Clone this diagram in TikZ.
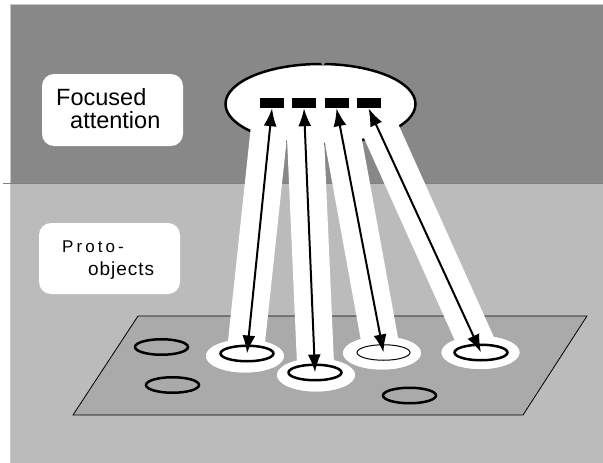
\documentclass[tikz,border=0pt]{standalone}
\usepackage{fontspec}
\setmainfont{Liberation Sans}
\usetikzlibrary{arrows.meta,shapes.geometric}

\definecolor{upgray}{HTML}{888888}
\definecolor{lowgray}{HTML}{BBBBBB}
\definecolor{planegray}{HTML}{AAAAAA}

\tikzset{
  labelbox/.style={fill=white,rounded corners=12pt,minimum width=141pt,minimum height=72pt,inner sep=0pt},
  boxtext/.style={anchor=base west,inner sep=0pt},
  blob/.style={ellipse,draw,line width=2.5pt,minimum width=53pt,minimum height=15.5pt,inner sep=0pt},
  halo/.style={ellipse,fill=white,minimum width=78pt,minimum height=33pt,inner sep=0pt},
  slot/.style={fill=black,minimum width=24pt,minimum height=10pt,inner sep=0pt},
  beam/.style={white,line width=37pt},
  link/.style={{Latex[length=18pt,width=13pt]}-{Latex[length=18pt,width=13pt]},line width=2pt},
}

\begin{document}
\begin{tikzpicture}[x=1pt,y=-1pt]
   \useasboundingbox (0,0) rectangle (603,463);
   % the two layers
   \fill[upgray] (10.5,4.5) rectangle (603,183);
   \fill[lowgray] (10.5,183) rectangle (603,463);
   \draw[black!22,line width=1pt] (10.5,463) -- (10.5,4.5) -- (603,4.5);
   \draw[black!50,line width=1pt] (3,183) -- (603,183);

   \node[labelbox] (focusbox) at (112.5,110) {};
   \node[boxtext,font=\fontsize{23.5}{24}\selectfont] (focus1) at (56,105) {Focused};
   \node[boxtext,font=\fontsize{23.5}{24}\selectfont] (focus2) at (70,128) {attention};

   \node[labelbox,minimum height=71pt] (protobox) at (109.5,258.5) {};
   \node[boxtext,font=\fontsize{17}{18}\selectfont\addfontfeatures{LetterSpace=18}] (proto1) at (62,252) {Proto-};
   \node[boxtext,font=\fontsize{19}{20}\selectfont\addfontfeatures{LetterSpace=5}] (proto2) at (88,275) {objects};

   % plane with the proto-objects
   \draw[fill=planegray,line width=0.8pt] (138,316) -- (587,316) -- (523,415) -- (73,415) -- cycle;
   \node[blob] (p1) at (161.5,347) {};
   \node[blob] (p2) at (172.5,385) {};
   \node[blob] (p3) at (409.5,395.5) {};

   \node[ellipse,draw,fill=white,line width=2.5pt,minimum width=190pt,minimum height=80pt] (att) at (320.5,104) {};
   \fill[upgray] (320,61.5) -- (326,61.5) -- (323,66) -- cycle;

   \node[slot] (r1) at (272,103) {};
   \node[slot] (r2) at (304,103) {};
   \node[slot] (r3) at (336.5,103) {};
   \node[slot] (r4) at (368.5,103) {};

   \node[halo] (h1) at (245,356) {};
   \node[halo] (h2) at (316,375) {};
   \node[halo] (h3) at (382,353) {};
   \node[halo] (h4) at (480.5,352.5) {};

   \foreach \r/\h in {r1/h1,r2/h2,r3/h3,r4/h4}
      \draw[beam] (\r.center) -- (\h.center);
   \foreach \h in {h1,h2,h3,h4}
      \fill[white] (\h) ellipse [x radius=39pt,y radius=16.5pt];

   \node[blob] (t1) at (247,353.5) {};
   \node[blob] (t2) at (315,372.5) {};
   \node[blob,line width=1pt] (t3) at (383.5,352.5) {};
   \node[blob] (t4) at (481,352.5) {};

   \foreach \r in {r1,r2,r3,r4}
      \node[slot] at (\r) {};
   \foreach \r/\t in {r1/t1,r2/t2,r3/t3,r4/t4}
      \draw[link] (\r.south) -- (\t.center);
\end{tikzpicture}
\end{document}
